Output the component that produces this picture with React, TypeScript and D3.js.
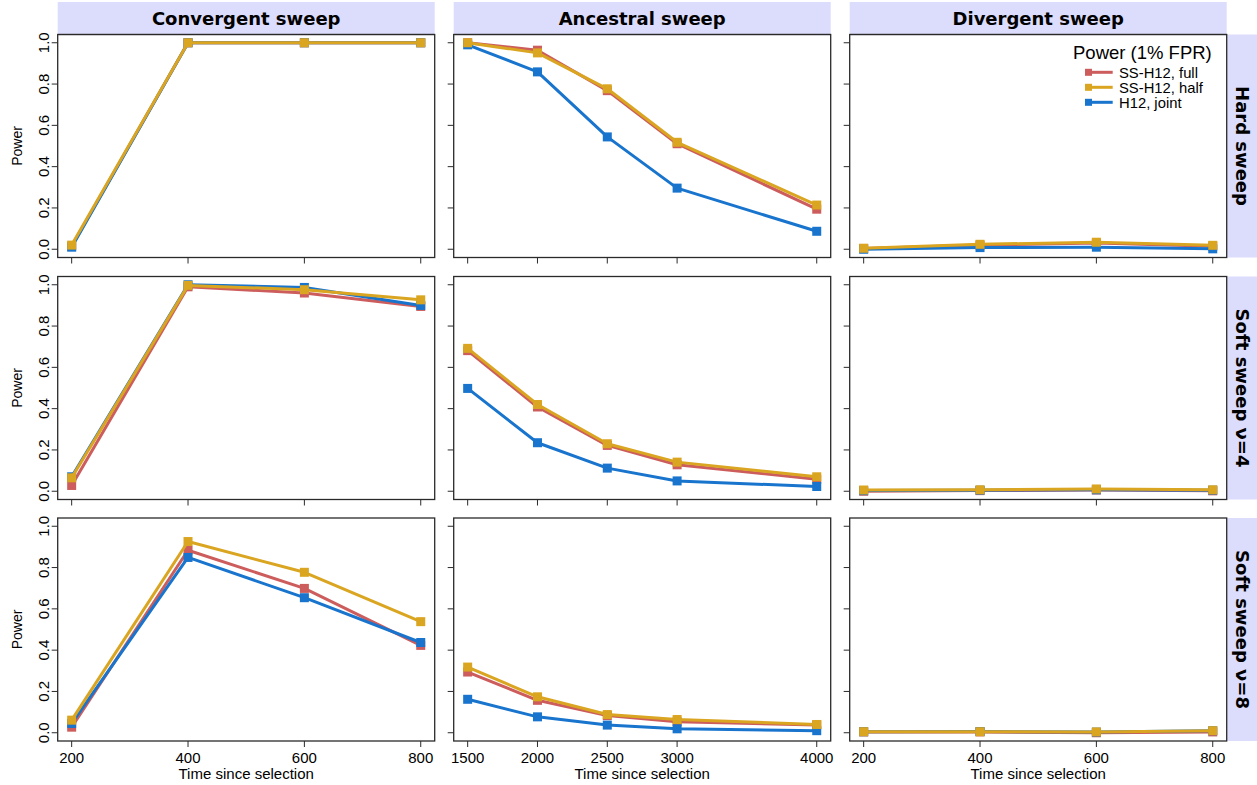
import React from "react";
import * as d3 from "d3";

// Time points (generations since selection) per sweep scenario
const convergentTimes = [200, 400, 600, 800];
const ancestralTimes = [1500, 2000, 2500, 3000, 4000];
const divergentTimes = [200, 400, 600, 800];

// Column / row strip labels
const columnLabels = ["Convergent sweep", "Ancestral sweep", "Divergent sweep"];
const rowLabels = ["Hard sweep", "Soft sweep ν=4", "Soft sweep ν=8"];

// Series names and colours
const seriesNames = ["SS-H12, full", "SS-H12, half", "H12, joint"];
const seriesColors = ["#CD5C5C", "#DAA520", "#1874CD"];

// Hard sweep power
const hardConvergentFull = [0.015, 1.0, 1.0, 1.0];
const hardConvergentHalf = [0.02, 1.0, 1.0, 1.0];
const hardConvergentJoint = [0.01, 1.0, 1.0, 1.0];
const hardAncestralFull = [1.0, 0.964, 0.768, 0.511, 0.194];
const hardAncestralHalf = [1.0, 0.951, 0.777, 0.518, 0.214];
const hardAncestralJoint = [0.99, 0.859, 0.544, 0.296, 0.087];
const hardDivergentFull = [0.003, 0.02, 0.03, 0.015];
const hardDivergentHalf = [0.005, 0.024, 0.034, 0.019];
const hardDivergentJoint = [0.0, 0.008, 0.01, 0.002];

// Soft sweep (ν=4) power
const soft4ConvergentFull = [0.028, 0.99, 0.96, 0.895];
const soft4ConvergentHalf = [0.065, 0.997, 0.976, 0.927];
const soft4ConvergentJoint = [0.07, 1.0, 0.987, 0.9];
const soft4AncestralFull = [0.681, 0.408, 0.222, 0.128, 0.058];
const soft4AncestralHalf = [0.692, 0.42, 0.23, 0.141, 0.07];
const soft4AncestralJoint = [0.498, 0.235, 0.112, 0.05, 0.023];
const soft4DivergentFull = [0.0, 0.003, 0.006, 0.002];
const soft4DivergentHalf = [0.006, 0.007, 0.011, 0.007];
const soft4DivergentJoint = [0.003, 0.005, 0.007, 0.005];

// Soft sweep (ν=8) power
const soft8ConvergentFull = [0.027, 0.884, 0.699, 0.423];
const soft8ConvergentHalf = [0.061, 0.926, 0.777, 0.538];
const soft8ConvergentJoint = [0.045, 0.849, 0.654, 0.437];
const soft8AncestralFull = [0.294, 0.157, 0.083, 0.053, 0.038];
const soft8AncestralHalf = [0.318, 0.174, 0.088, 0.064, 0.04];
const soft8AncestralJoint = [0.162, 0.077, 0.037, 0.019, 0.01];
const soft8DivergentFull = [0.004, 0.004, 0.0, 0.004];
const soft8DivergentHalf = [0.005, 0.005, 0.004, 0.01];
const soft8DivergentJoint = [0.005, 0.006, 0.003, 0.01];

const yTicks = [0, 0.2, 0.4, 0.6, 0.8, 1.0];

const columnTimes = [convergentTimes, ancestralTimes, divergentTimes];
const columnDomains: [number, number][] = [
  [176, 824],
  [1400, 4100],
  [176, 824],
];

// panels[row][col] = [full, half, joint]
const panels = [
  [
    [hardConvergentFull, hardConvergentHalf, hardConvergentJoint],
    [hardAncestralFull, hardAncestralHalf, hardAncestralJoint],
    [hardDivergentFull, hardDivergentHalf, hardDivergentJoint],
  ],
  [
    [soft4ConvergentFull, soft4ConvergentHalf, soft4ConvergentJoint],
    [soft4AncestralFull, soft4AncestralHalf, soft4AncestralJoint],
    [soft4DivergentFull, soft4DivergentHalf, soft4DivergentJoint],
  ],
  [
    [soft8ConvergentFull, soft8ConvergentHalf, soft8ConvergentJoint],
    [soft8AncestralFull, soft8AncestralHalf, soft8AncestralJoint],
    [soft8DivergentFull, soft8DivergentHalf, soft8DivergentJoint],
  ],
];

// Layout
const W = 1257;
const H = 785;
const colLefts = [57.7, 453.7, 849.7];
const panelW = 377;
const rowTops = [34.5, 276.5, 518];
const panelH = 223;
const stripTop = 2;
const rightStripX = 1227;

const axisFont = "'Liberation Sans', Arial, Helvetica, sans-serif";
const stripFont = "'DejaVu Sans', Verdana, sans-serif";
const stripFill = "#DCDCFC";
const frameColor = "#2a2a2a";

// Draw order: full, joint, half (half on top)
const drawOrder = [0, 2, 1];

export default function App() {
  return (
    <svg
      width={W}
      height={H}
      style={{ position: "absolute", left: 0, top: 0, background: "#fff" }}
    >
      {/* Column strips */}
      {columnLabels.map((lab, c) => (
        <g key={"cs" + c}>
          <rect
            x={colLefts[c]}
            y={stripTop}
            width={panelW}
            height={rowTops[0] - stripTop}
            fill={stripFill}
          />
          <line
            x1={colLefts[c]}
            x2={colLefts[c] + panelW}
            y1={rowTops[0]}
            y2={rowTops[0]}
            stroke="#a8a8b8"
            strokeWidth={1.5}
          />
          <text
            x={colLefts[c] + panelW / 2}
            y={(stripTop + rowTops[0]) / 2}
            textAnchor="middle"
            dominantBaseline="central"
            fontFamily={stripFont}
            fontWeight="bold"
            fontSize={18}
          >
            {lab}
          </text>
        </g>
      ))}

      {/* Row strips */}
      {rowLabels.map((lab, r) => (
        <g key={"rs" + r}>
          <rect
            x={rightStripX}
            y={rowTops[r]}
            width={W - rightStripX}
            height={panelH}
            fill={stripFill}
          />
          <text
            transform={`translate(${rightStripX + 15}, ${rowTops[r] + panelH / 2}) rotate(90)`}
            textAnchor="middle"
            dominantBaseline="central"
            fontFamily={stripFont}
            fontWeight="bold"
            fontSize={18}
          >
            {lab}
          </text>
        </g>
      ))}

      {panels.map((row, r) =>
        row.map((series, c) => {
          const x = d3
            .scaleLinear()
            .domain(columnDomains[c])
            .range([colLefts[c], colLefts[c] + panelW]);
          const y = d3
            .scaleLinear()
            .domain([-0.04, 1.04])
            .range([rowTops[r] + panelH, rowTops[r]]);
          const times = columnTimes[c];
          const line = d3
            .line<number>()
            .x((_, i) => x(times[i]))
            .y((v) => y(v));
          const bottom = rowTops[r] + panelH;
          return (
            <g key={`p${r}-${c}`}>
              {/* y ticks */}
              {yTicks.map((t) => (
                <line
                  key={"yt" + t}
                  x1={colLefts[c] - 6}
                  x2={colLefts[c]}
                  y1={y(t)}
                  y2={y(t)}
                  stroke={frameColor}
                  strokeWidth={1}
                />
              ))}
              {c === 0 &&
                yTicks.map((t) => (
                  <text
                    key={"yl" + t}
                    transform={`translate(43, ${y(t)}) rotate(-90)`}
                    textAnchor="middle"
                    dominantBaseline="central"
                    fontFamily={axisFont}
                    fontSize={15}
                  >
                    {t.toFixed(1)}
                  </text>
                ))}
              {c === 0 && (
                <text
                  transform={`translate(17, ${rowTops[r] + panelH / 2}) rotate(-90)`}
                  textAnchor="middle"
                  dominantBaseline="central"
                  fontFamily={axisFont}
                  fontSize={14}
                >
                  Power
                </text>
              )}
              {/* x ticks */}
              {times.map((t) => (
                <line
                  key={"xt" + t}
                  x1={x(t)}
                  x2={x(t)}
                  y1={bottom}
                  y2={bottom + 6}
                  stroke={frameColor}
                  strokeWidth={1}
                />
              ))}
              {r === 2 &&
                times.map((t) => (
                  <text
                    key={"xl" + t}
                    x={x(t)}
                    y={763}
                    textAnchor="middle"
                    fontFamily={axisFont}
                    fontSize={15}
                  >
                    {t}
                  </text>
                ))}
              {r === 2 && (
                <text
                  x={colLefts[c] + panelW / 2}
                  y={779}
                  textAnchor="middle"
                  fontFamily={axisFont}
                  fontSize={15}
                >
                  Time since selection
                </text>
              )}
              {/* series */}
              {drawOrder.map((s) => (
                <g key={"s" + s}>
                  <path
                    d={line(series[s]) || ""}
                    fill="none"
                    stroke={seriesColors[s]}
                    strokeWidth={3}
                    strokeLinejoin="round"
                  />
                  {series[s].map((v, i) => (
                    <rect
                      key={i}
                      x={x(times[i]) - 4.5}
                      y={y(v) - 4.5}
                      width={9}
                      height={9}
                      fill={seriesColors[s]}
                    />
                  ))}
                </g>
              ))}
              {/* frame */}
              <rect
                x={colLefts[c]}
                y={rowTops[r]}
                width={panelW}
                height={panelH}
                fill="none"
                stroke={frameColor}
                strokeWidth={1.3}
              />
            </g>
          );
        })
      )}

      {/* Legend */}
      <g>
        <text
          x={1073}
          y={59}
          fontFamily={axisFont}
          fontSize={18.5}
        >
          Power (1% FPR)
        </text>
        {seriesNames.map((name, i) => {
          const cy = 72.3 + i * 15;
          return (
            <g key={name}>
              <line
                x1={1085}
                x2={1112.7}
                y1={cy}
                y2={cy}
                stroke={seriesColors[i]}
                strokeWidth={3}
              />
              <rect
                x={1085}
                y={cy - 3.5}
                width={7}
                height={7}
                fill={seriesColors[i]}
              />
              <text
                x={1119}
                y={cy + 5.3}
                fontFamily={axisFont}
                fontSize={14.8}
              >
                {name}
              </text>
            </g>
          );
        })}
      </g>
    </svg>
  );
}
